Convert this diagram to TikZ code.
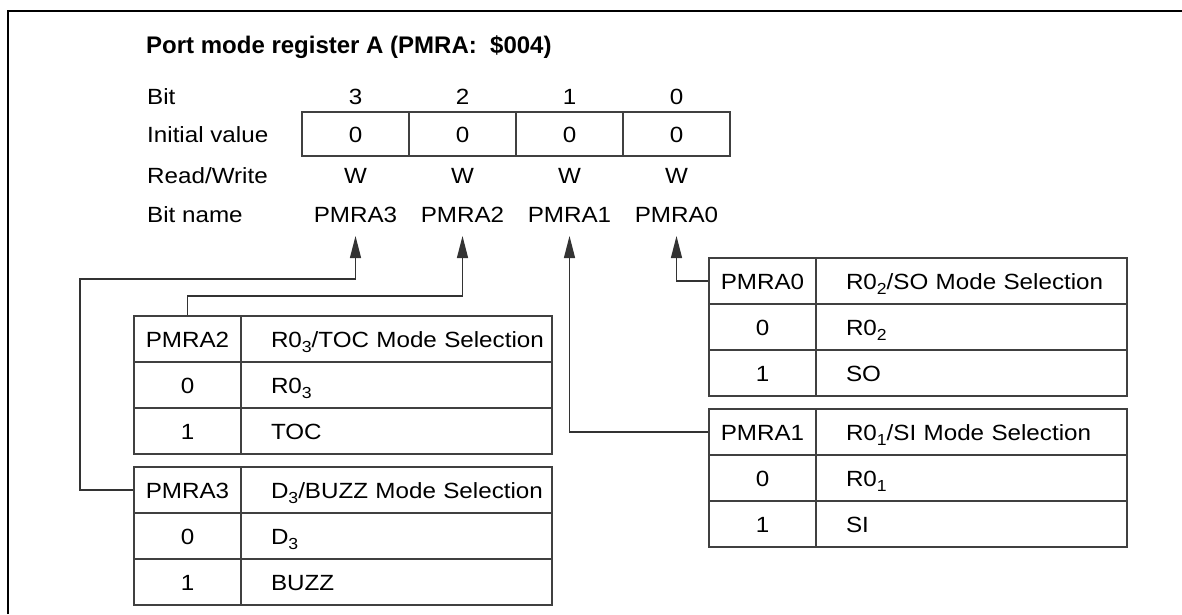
\documentclass[tikz,border=0pt]{standalone}
\usepackage{fontspec}
\setmainfont{Liberation Sans}
\newfontfamily\bodyfont[FakeStretch=1.1]{Liberation Sans}
\newcommand{\sbs}[1]{\raisebox{-5pt}{\fontsize{16}{16}\selectfont #1}}
\usetikzlibrary{arrows.meta}
\begin{document}
\begin{tikzpicture}[x=1pt,y=-1pt,
  txt/.style={inner sep=0pt, text height=16pt, text depth=0pt, font=\bodyfont\fontsize{22}{26}\selectfont},
  cell/.style={txt, draw=black!75, line width=1.3pt, minimum height=46pt},
  c1/.style={cell, minimum width=107pt},
  c2/.style={cell, text width=311pt, align=left},
  reg/.style={cell, minimum width=107pt, minimum height=44pt},
  conn/.style={draw=black!80, line width=1.3pt},
  arr/.style={conn, -{Triangle[length=22pt,width=11pt]}},
  frame/.style={line width=2pt, black}]
\useasboundingbox (0,0) rectangle (1182,614);
\draw[frame] (8,614) -- (8,11) -- (1182,11);

\node[txt, anchor=west, font=\fontsize{24}{28}\selectfont\bfseries, text height=17pt] (title) at (146,45) {Port mode register A (PMRA:\ \ \$004)};

\node[txt, anchor=west] (lbit) at (147,96) {Bit};
\node[txt, anchor=west] (liv) at (147,134) {Initial value};
\node[txt, anchor=west] (lrw) at (147,175) {Read/Write};
\node[txt, anchor=west] (lbn) at (147,214) {Bit name};

\foreach \b/\x in {3/355.5,2/462.5,1/569.5,0/676.5} {
  \node[txt] (bit\b) at (\x,96) {\b};
  \node[reg] (iv\b) at (\x,134) {0};
  \node[txt] (rw\b) at (\x,175) {W};
  \node[txt] (bn\b) at (\x,214) {PMRA\b};
}
\coordinate (tip) at (0,236);

% PMRA2 table
\node[c1] (p2) at (187.5,339) {PMRA2};
\node[c2] (p2t) at (396.5,339) {\hspace*{30pt}R0\sbs{3}/TOC Mode Selection};
\node[c1] (p2a) at (187.5,385) {0};
\node[c2] (p2b) at (396.5,385) {\hspace*{30pt}R0\sbs{3}};
\node[c1] (p2c) at (187.5,431) {1};
\node[c2] (p2d) at (396.5,431) {\hspace*{30pt}TOC};

% PMRA3 table
\node[c1] (p3) at (187.5,490) {PMRA3};
\node[c2] (p3t) at (396.5,490) {\hspace*{30pt}D\sbs{3}/BUZZ Mode Selection};
\node[c1] (p3a) at (187.5,536) {0};
\node[c2] (p3b) at (396.5,536) {\hspace*{30pt}D\sbs{3}};
\node[c1] (p3c) at (187.5,582) {1};
\node[c2] (p3d) at (396.5,582) {\hspace*{30pt}BUZZ};

% PMRA0 table
\node[c1] (p0) at (762.5,281) {PMRA0};
\node[c2] (p0t) at (971.5,281) {\hspace*{30pt}R0\sbs{2}/SO Mode Selection};
\node[c1] (p0a) at (762.5,327) {0};
\node[c2] (p0b) at (971.5,327) {\hspace*{30pt}R0\sbs{2}};
\node[c1] (p0c) at (762.5,373) {1};
\node[c2] (p0d) at (971.5,373) {\hspace*{30pt}SO};

% PMRA1 table
\node[c1] (p1) at (762.5,432) {PMRA1};
\node[c2] (p1t) at (971.5,432) {\hspace*{30pt}R0\sbs{1}/SI Mode Selection};
\node[c1] (p1a) at (762.5,478) {0};
\node[c2] (p1b) at (971.5,478) {\hspace*{30pt}R0\sbs{1}};
\node[c1] (p1c) at (762.5,524) {1};
\node[c2] (p1d) at (971.5,524) {\hspace*{30pt}SI};

% connectors
\coordinate (L3) at (80,279);
\coordinate (L2) at (0,296);
\draw[arr] (p3.west) -| (L3) -| (bn3|-tip);
\draw[arr] (p2.north) -- (p2.north|-L2) -| (bn2|-tip);
\draw[arr] (p1.west) -| (bn1|-tip);
\draw[arr] (p0.west) -| (bn0|-tip);
\end{tikzpicture}
\end{document}
